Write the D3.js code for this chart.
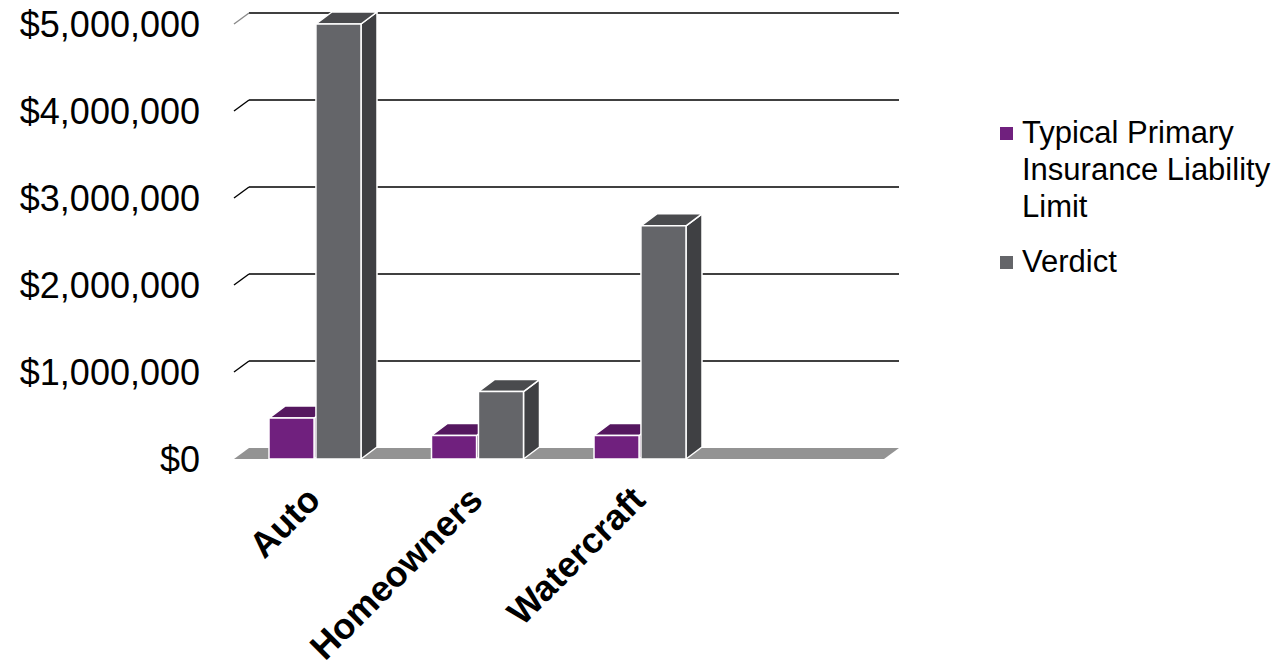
<!DOCTYPE html>
<html>
<head>
<meta charset="utf-8">
<script src="https://cdn.jsdelivr.net/npm/d3@7"></script>
<style>
  html, body { margin: 0; padding: 0; background: #fff; }
  svg { display: block; font-family: "Liberation Sans", Arial, sans-serif; }
</style>
</head>
<body>
<svg id="chart" width="1280" height="670"></svg>
<script>
// ---- data ----
const categories = ["Auto", "Homeowners", "Watercraft", ""];
const seriesNames = ["Typical Primary Insurance Liability Limit", "Verdict"];
const primaryLimit = [470000, 270000, 270000, null];
const verdict = [5000000, 775000, 2680000, null];
const yTicks = [0, 1000000, 2000000, 3000000, 4000000, 5000000];

// ---- styling ----
const colors = [
  { front: "#70207e", top: "#55175f", side: "#4a1454" },
  { front: "#646569", top: "#4a4b4e", side: "#3f4043" }
];
const svg = d3.select("#chart");

const x0 = 234, x1 = 884;
const wallDX = 15, wallDY = -11;
const barDX = 16, barDY = -12;

const y = d3.scaleLinear().domain([0, 5000000]).range([459, 24]);
const x = d3.scaleBand().domain(categories).range([x0, x1]);
const xs = d3.scaleBand().domain(seriesNames).range([35, 127]).paddingInner(0.04);

// floor
svg.append("path")
  .attr("d", `M${x0},${y(0)} L${x1},${y(0)} L${x1 + wallDX},${y(0) + wallDY} L${x0 + wallDX},${y(0) + wallDY} Z`)
  .attr("fill", "#939393");

// back gridlines + stubs
const gl = svg.append("g");
yTicks.filter(v => v > 0).forEach((v) => {
  const yb = y(v) + wallDY;
  gl.append("line")
    .attr("x1", x0 + wallDX).attr("x2", x1 + wallDX)
    .attr("y1", yb).attr("y2", yb)
    .attr("stroke", "#000").attr("stroke-width", 1.4);
  gl.append("line")
    .attr("x1", x0).attr("y1", y(v))
    .attr("x2", x0 + wallDX).attr("y2", yb)
    .attr("stroke", v === 5000000 ? "#8a8a8a" : "#000").attr("stroke-width", 1.4);
});

// y labels
svg.append("g").selectAll("text").data(yTicks).join("text")
  .attr("x", 200).attr("y", d => y(d))
  .attr("dy", "0.35em")
  .attr("text-anchor", "end")
  .attr("font-size", 36)
  .attr("fill", "#000")
  .text(d => d3.format("$,")(d));

// bars
const values = [primaryLimit, verdict];
const bars = svg.append("g");
categories.forEach((c, ci) => {
  values.forEach((arr, si) => {
    const v = arr[ci];
    if (v == null) return;
    const bx = x(c) + xs(seriesNames[si]);
    const w = xs.bandwidth();
    const yt = y(v), yb = y(0);
    const col = colors[si];
    const g = bars.append("g").attr("stroke", "#fff").attr("stroke-width", 1.5).attr("stroke-linejoin", "round");
    g.append("path")
      .attr("d", `M${bx + w},${yb} L${bx + w},${yt} L${bx + w + barDX},${yt + barDY} L${bx + w + barDX},${yb + barDY} Z`)
      .attr("fill", col.side);
    g.append("path")
      .attr("d", `M${bx},${yt} L${bx + barDX},${yt + barDY} L${bx + w + barDX},${yt + barDY} L${bx + w},${yt} Z`)
      .attr("fill", col.top);
    g.append("rect")
      .attr("x", bx).attr("y", yt).attr("width", w).attr("height", yb - yt)
      .attr("fill", col.front);
  });
});

// category labels
svg.append("g").selectAll("text").data(categories.filter(c => c)).join("text")
  .attr("transform", d => `translate(${x(d) + x.bandwidth() / 2 + 7},${502}) rotate(-45)`)
  .attr("text-anchor", "end")
  .attr("font-size", 36)
  .attr("font-weight", "bold")
  .attr("fill", "#000")
  .text(d => d);

// legend
const legend = svg.append("g");
const legendItems = [
  { lines: ["Typical Primary", "Insurance Liability", "Limit"], color: colors[0].front, baseline: 143 },
  { lines: ["Verdict"], color: colors[1].front, baseline: 272 }
];
legendItems.forEach(item => {
  legend.append("rect")
    .attr("x", 1000).attr("y", item.baseline - 16)
    .attr("width", 13).attr("height", 13)
    .attr("fill", item.color);
  item.lines.forEach((ln, i) => {
    legend.append("text")
      .attr("x", 1022).attr("y", item.baseline + i * 37)
      .attr("font-size", 31)
      .attr("fill", "#000")
      .text(ln);
  });
});
</script>
</body>
</html>
